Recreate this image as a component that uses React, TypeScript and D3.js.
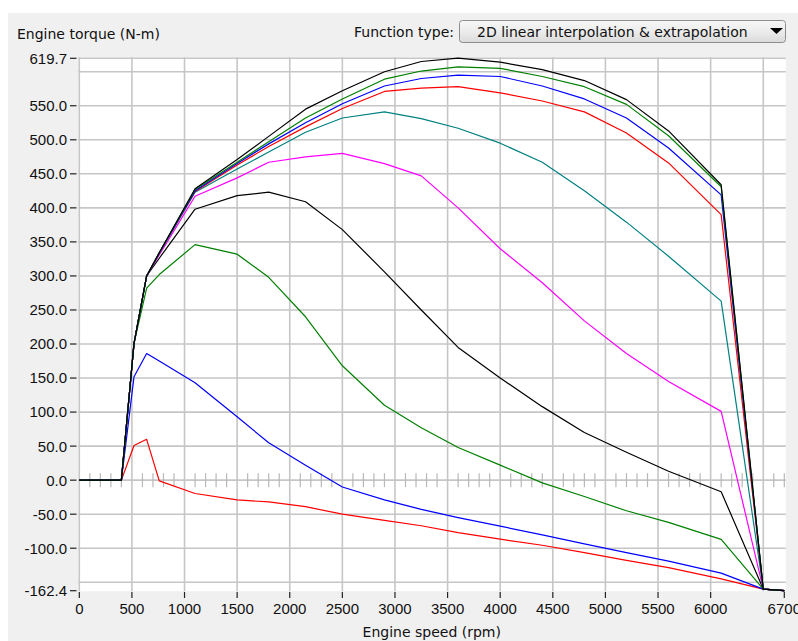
import React from 'react';
import * as d3 from 'd3';

// Engine speed breakpoints (rpm)
const speeds = [0, 400, 520, 640, 760, 1100, 1500, 1800, 2150, 2500, 2900, 3250, 3600, 4000, 4400, 4800, 5200, 5600, 6100, 6500, 6700];

// Torque curves (N-m), one per throttle level, top to bottom
const torqueA = [0, 0, 201, 300, 334, 428, 471, 505, 545, 572, 600, 615, 620, 614, 603, 587, 559, 513, 434, -160, -162.4];
const torqueB = [0, 0, 201, 300, 334, 427, 467, 497, 532, 560, 589, 601, 607, 605, 593, 578, 552, 506, 431, -160, -162.4];
const torqueC = [0, 0, 201, 300, 334, 425, 465, 494, 525, 553, 579, 590, 595, 593, 579, 560, 532, 488, 419, -160, -162.4];
const torqueD = [0, 0, 201, 300, 334, 424, 463, 490, 519, 546, 571, 576, 578, 569, 557, 541, 510, 466, 390, -160, -162.4];
const torqueE = [0, 0, 201, 300, 333, 423, 457, 482, 511, 532, 541, 531, 517, 495, 467, 425, 379, 329, 263, -160, -162.4];
const torqueF = [0, 0, 201, 300, 331, 417, 444, 467, 475, 480, 465, 447, 400, 340, 290, 234, 186, 145, 101, -160, -162.4];
const torqueG = [0, 0, 201, 300, 326, 398, 418, 423, 409, 368, 306, 250, 195, 150, 108, 70, 41, 13, -17, -160, -162.4];
const torqueH = [0, 0, 201, 282, 302, 346, 332, 298, 240, 168, 110, 77, 48, 22, -4, -24, -45, -62, -87, -160, -162.4];
const torqueI = [0, 0, 152, 186, 175, 143, 93, 55, 22, -10, -29, -43, -55, -67.6, -80.5, -93.6, -106.5, -119, -136.5, -160, -162.4];
const torqueJ = [0, 0, 51, 60, -1, -19.6, -29, -32, -39, -50, -59, -67, -77, -86.7, -95.6, -106.6, -117.8, -128.5, -145, -160, -162.4];

const allSeries = [torqueA, torqueB, torqueC, torqueD, torqueE, torqueF, torqueG, torqueH, torqueI, torqueJ];
const seriesColors = ['#000000', '#008000', '#0000ff', '#ff0000', '#008080', '#ff00ff', '#000000', '#008000', '#0000ff', '#ff0000'];

const xTickValues = [0, 500, 1000, 1500, 2000, 2500, 3000, 3500, 4000, 4500, 5000, 5500, 6000, 6700];
const yTickValues = [619.7, 550, 500, 450, 400, 350, 300, 250, 200, 150, 100, 50, 0, -50, -100, -162.4];

const xTitle = 'Engine speed (rpm)';
const yTitle = 'Engine torque (N-m)';
const functionLabel = 'Function type:';
const functionValue = '2D linear interpolation & extrapolation';

const LETTER_FONT = '"DejaVu Sans", sans-serif';
const NUM_FONT = '"Liberation Sans", Arial, sans-serif';

export default function App() {
  const W = 798;
  const H = 641;
  const x = d3.scaleLinear().domain([0, 6700]).range([79.3, 784.3]);
  const y = d3.scaleLinear().domain([-162.4, 619.7]).range([590.7, 58.3]);
  const line = d3
    .line<[number, number]>()
    .x((d) => x(d[0]))
    .y((d) => y(d[1]));

  const vGrid = d3.range(0, 6501, 500);
  const hGrid = [...d3.range(-150, 601, 50), 619.7];
  const minor = d3.range(100, 6701, 100).filter((v) => v % 500 !== 0);

  const plotL = x(0) - 1;
  const plotR = x(6700) + 1.5;
  const plotT = y(619.7) - 1;
  const plotB = y(-162.4) + 0.5;

  const order = allSeries.map((_, i) => i).reverse();

  return (
    <svg
      width={W}
      height={H}
      style={{ position: 'absolute', left: 0, top: 0 }}
      xmlns="http://www.w3.org/2000/svg"
    >
      <defs>
        <linearGradient id="ddg" x1="0" y1="0" x2="0" y2="1">
          <stop offset="0" stopColor="#f7f7f7" />
          <stop offset="0.5" stopColor="#ececec" />
          <stop offset="1" stopColor="#dadada" />
        </linearGradient>
        <clipPath id="plotClip">
          <rect x={plotL} y={plotT - 2} width={plotR - plotL} height={plotB - plotT + 4} />
        </clipPath>
      </defs>
      <rect x={0} y={0} width={W} height={H} fill="#ffffff" />
      <rect x={8} y={13} width={W - 8} height={H - 13} fill="#f0f0f0" />

      {/* header */}
      <text x={17} y={39} fontFamily={LETTER_FONT} fontSize={14} fill="#111">
        {yTitle}
      </text>
      <text x={454} y={37} textAnchor="end" fontFamily={LETTER_FONT} fontSize={14} fill="#111">
        {functionLabel}
      </text>
      <rect x={459.5} y={20.5} width={326} height={22} rx={3} ry={3} fill="url(#ddg)" stroke="#8d8d8d" />
      <text x={477} y={37} fontFamily={LETTER_FONT} fontSize={14} fill="#111">
        {functionValue}
      </text>
      <path d="M770,28 L783,28 L776.5,34 Z" fill="#000" />

      {/* plot area */}
      <rect x={plotL} y={plotT} width={plotR - plotL} height={plotB - plotT} fill="#ffffff" />
      {vGrid.map((v) => (
        <line key={'v' + v} x1={x(v)} x2={x(v)} y1={plotT} y2={plotB} stroke="#c6c6c6" strokeWidth={1.6} />
      ))}
      {hGrid.map((v) => (
        <line key={'h' + v} x1={plotL} x2={plotR} y1={y(v)} y2={y(v)} stroke="#c6c6c6" strokeWidth={1.6} />
      ))}
      {minor.map((v) => (
        <line key={'m' + v} x1={x(v)} x2={x(v)} y1={y(0) - 7} y2={y(0) + 7} stroke="#b8b8b8" strokeWidth={1.2} />
      ))}

      <g clipPath="url(#plotClip)">
        {order.map((i) => {
          const pts: [number, number][] = speeds.map((s, k) => [s, allSeries[i][k]]);
          return (
            <path
              key={'s' + i}
              d={line(pts) || ''}
              fill="none"
              stroke={seriesColors[i]}
              strokeWidth={1.2}
              strokeLinejoin="round"
            />
          );
        })}
      </g>

      {/* y axis */}
      {yTickValues.map((v) => (
        <g key={'yt' + v}>
          <line x1={70} x2={76.5} y1={y(v)} y2={y(v)} stroke="#222" strokeWidth={1.2} />
          <text
            x={67}
            y={y(v)}
            dy="0.36em"
            textAnchor="end"
            fontFamily={NUM_FONT}
            fontSize={15}
            fill="#111"
          >
            {v.toFixed(1)}
          </text>
        </g>
      ))}

      {/* x axis */}
      {xTickValues.map((v) => (
        <g key={'xt' + v}>
          <line x1={x(v)} x2={x(v)} y1={592} y2={598} stroke="#222" strokeWidth={1.2} />
          <text x={x(v)} y={614} textAnchor="middle" fontFamily={NUM_FONT} fontSize={15} fill="#111">
            {v}
          </text>
        </g>
      ))}
      <text
        x={(x(0) + x(6700)) / 2}
        y={637}
        textAnchor="middle"
        fontFamily={LETTER_FONT}
        fontSize={14}
        fill="#111"
      >
        {xTitle}
      </text>
    </svg>
  );
}
